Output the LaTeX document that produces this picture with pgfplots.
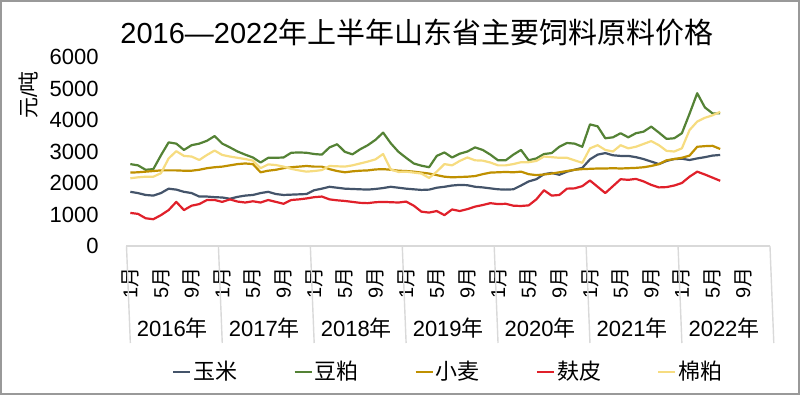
\documentclass[border=0pt]{standalone}
\usepackage{pgfplots}
\usepackage{pgfplotstable}
\pgfplotsset{compat=1.18}
\usepackage{fontspec}
\setmainfont{Liberation Sans}
\newfontfamily\cjk{Noto Sans CJK SC}
\newcommand\yue{{\cjk 月}}
\definecolor{corn}{HTML}{44546A}
\definecolor{soy}{HTML}{548235}
\definecolor{wheat}{HTML}{BF9000}
\definecolor{bran}{HTML}{E0202A}
\definecolor{cotton}{HTML}{F6DC80}
\definecolor{sep}{HTML}{D9D9D9}

\pgfplotstableread{
m corn soy wheat bran cotton
0 1720 2600 2330 1050 2150
1 1680 2560 2340 1020 2180
2 1620 2420 2360 880 2200
3 1600 2440 2380 850 2200
4 1680 2880 2400 980 2310
5 1820 3290 2400 1140 2780
6 1790 3250 2400 1400 3010
7 1720 3050 2390 1140 2860
8 1680 3200 2390 1280 2840
9 1570 3250 2420 1330 2730
10 1570 3340 2470 1460 2890
11 1550 3490 2500 1460 3030
12 1540 3250 2520 1400 2890
13 1500 3130 2560 1480 2840
14 1560 3000 2600 1410 2800
15 1600 2900 2620 1380 2760
16 1620 2810 2600 1420 2710
17 1680 2650 2340 1380 2470
18 1720 2800 2390 1460 2590
19 1650 2800 2420 1400 2570
20 1620 2810 2470 1340 2520
21 1630 2960 2500 1460 2450
22 1640 2970 2520 1480 2400
23 1650 2960 2540 1510 2360
24 1770 2920 2520 1550 2380
25 1820 2900 2520 1570 2410
26 1880 3130 2440 1480 2540
27 1850 3230 2380 1450 2530
28 1820 2990 2340 1430 2520
29 1810 2910 2370 1400 2560
30 1800 3070 2390 1370 2620
31 1790 3200 2400 1360 2680
32 1810 3370 2430 1390 2750
33 1840 3600 2440 1400 2920
34 1880 3260 2420 1390 2430
35 1850 2990 2390 1380 2350
36 1820 2800 2380 1410 2360
37 1800 2620 2360 1280 2330
38 1780 2550 2330 1090 2300
39 1790 2500 2300 1060 2160
40 1850 2860 2250 1110 2360
41 1880 2970 2200 980 2600
42 1920 2810 2180 1160 2560
43 1940 2930 2190 1110 2700
44 1930 3000 2200 1170 2810
45 1880 3130 2220 1250 2720
46 1860 3050 2280 1300 2710
47 1830 2900 2330 1360 2650
48 1800 2720 2340 1330 2560
49 1790 2720 2350 1340 2560
50 1800 2900 2340 1280 2600
51 1920 3050 2360 1270 2660
52 2050 2720 2280 1290 2660
53 2120 2780 2250 1480 2700
54 2280 2920 2270 1770 2840
55 2320 2950 2300 1600 2820
56 2260 3150 2340 1620 2800
57 2360 3270 2380 1820 2800
58 2420 3250 2420 1830 2720
59 2480 3150 2440 1900 2640
60 2750 3860 2450 2080 3100
61 2900 3800 2460 1880 3200
62 2950 3420 2460 1680 3050
63 2880 3450 2470 1900 3000
64 2860 3580 2460 2120 3200
65 2860 3450 2470 2100 3100
66 2820 3580 2480 2130 3150
67 2760 3630 2500 2050 3240
68 2680 3790 2540 1940 3330
69 2600 3600 2600 1860 3200
70 2700 3400 2720 1870 3020
71 2760 3420 2760 1920 3000
72 2770 3580 2800 2000 3100
73 2730 4200 2870 2200 3680
74 2780 4850 3150 2360 3950
75 2820 4400 3170 2270 4070
76 2870 4210 3180 2170 4150
77 2890 4210 3080 2070 4260
}\prices

\begin{document}
\begin{tikzpicture}[x=1pt,y=1pt]
\useasboundingbox (0,0) rectangle (400,-197.5);
\draw[black!40, line width=0.8pt] (0.4,-0.4) rectangle (399.6,-197.1);
\node[font=\fontsize{14.5}{17}\selectfont] at (208.5,-16.5) {2016—2022{\cjk 年上半年山东省主要饲料原料价格}};
\node[rotate=90, font=\fontsize{10.5}{12}\selectfont] at (14.5,-47.5) {{\cjk 元}/{\cjk 吨}};
\begin{axis}[
  at={(63.25pt,-123pt)}, anchor=south west,
  width=321.75pt, height=94.5pt, scale only axis,
  xmin=-0.5, xmax=83.5, ymin=0, ymax=6000,
  clip=false,
  axis x line*=bottom, axis y line*=left,
  y axis line style={draw=none},
  x axis line style={draw=sep, line width=0.7pt},
  major tick length=0pt,
  ytick={0,1000,...,6000},
  scaled y ticks=false,
  /pgf/number format/set thousands separator={},
  /pgf/number format/assume math mode=true,
  yticklabel style={font=\fontsize{11}{13}\selectfont, anchor=east, inner sep=0pt, xshift=-13.75pt},
  xtick={0,4,...,80},
  xticklabels={1\yue,5\yue,9\yue,1\yue,5\yue,9\yue,1\yue,5\yue,9\yue,1\yue,5\yue,9\yue,1\yue,5\yue,9\yue,1\yue,5\yue,9\yue,1\yue,5\yue,9\yue},
  xticklabel style={font=\fontsize{10}{11}\selectfont, rotate=90, anchor=east, inner sep=0pt},
  xticklabel shift=10.5pt,
  legend columns=5,
  legend style={at={(0.5,-0.667)}, anchor=center, draw=none, fill=none,
    font=\fontsize{11}{13}\selectfont, nodes={inner sep=1pt},
    /tikz/every even column/.append style={column sep=27pt}},
  legend image code/.code={\draw[#1, line width=1.1pt] (0pt,0pt) -- (8.5pt,0pt);},
  every axis plot/.append style={line width=1.1pt, line join=round},
]
\addplot[corn] table[x=m,y=corn]{\prices};
\addlegendentry{{\cjk 玉米}}
\addplot[soy] table[x=m,y=soy]{\prices};
\addlegendentry{{\cjk 豆粕}}
\addplot[wheat] table[x=m,y=wheat]{\prices};
\addlegendentry{{\cjk 小麦}}
\addplot[bran] table[x=m,y=bran]{\prices};
\addlegendentry{{\cjk 麸皮}}
\addplot[cotton] table[x=m,y=cotton]{\prices};
\addlegendentry{{\cjk 棉粕}}
\draw[sep, line width=0.7pt] (axis cs:-0.5,0) -- ++(0,-48.5pt);
\draw[sep, line width=0.7pt] (axis cs:11.5,0) -- ++(0,-48.5pt);
\draw[sep, line width=0.7pt] (axis cs:23.5,0) -- ++(0,-48.5pt);
\draw[sep, line width=0.7pt] (axis cs:35.5,0) -- ++(0,-48.5pt);
\draw[sep, line width=0.7pt] (axis cs:47.5,0) -- ++(0,-48.5pt);
\draw[sep, line width=0.7pt] (axis cs:59.5,0) -- ++(0,-48.5pt);
\draw[sep, line width=0.7pt] (axis cs:71.5,0) -- ++(0,-48.5pt);
\draw[sep, line width=0.7pt] (axis cs:83.5,0) -- ++(0,-48.5pt);
\node[font=\fontsize{11}{13}\selectfont] at ([yshift=-41pt]axis cs:5.5,0) {2016{\cjk 年}};
\node[font=\fontsize{11}{13}\selectfont] at ([yshift=-41pt]axis cs:17.5,0) {2017{\cjk 年}};
\node[font=\fontsize{11}{13}\selectfont] at ([yshift=-41pt]axis cs:29.5,0) {2018{\cjk 年}};
\node[font=\fontsize{11}{13}\selectfont] at ([yshift=-41pt]axis cs:41.5,0) {2019{\cjk 年}};
\node[font=\fontsize{11}{13}\selectfont] at ([yshift=-41pt]axis cs:53.5,0) {2020{\cjk 年}};
\node[font=\fontsize{11}{13}\selectfont] at ([yshift=-41pt]axis cs:65.5,0) {2021{\cjk 年}};
\node[font=\fontsize{11}{13}\selectfont] at ([yshift=-41pt]axis cs:77.5,0) {2022{\cjk 年}};
\end{axis}
\end{tikzpicture}
\end{document}
